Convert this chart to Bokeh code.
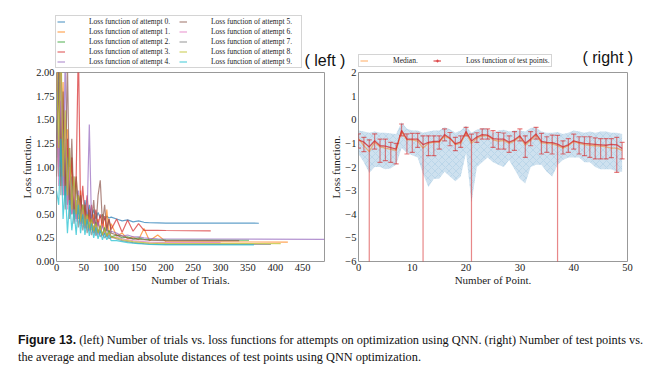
from bokeh.plotting import figure
from bokeh.layouts import row, column
from bokeh.models import (Legend, LegendItem, Label, Div, FixedTicker, Range1d,
                          CustomJSTickFormatter, NumeralTickFormatter)
from bokeh.embed import file_html
from bokeh.resources import INLINE

SERIF = "Liberation Serif"
SANS = "Liberation Sans"

# ---------------- left panel data ----------------
trial_grid = [0, 4, 8, 12, 16, 20, 24, 28, 32, 36, 40, 44, 48, 52, 56, 60, 64, 68, 72, 76,
              80, 84, 88, 92, 96, 100, 110, 120, 130, 140, 150, 160, 170, 185, 200]
attempt_end = [370, 423, 352, 282, 490, 334, 300, 392, 410, 361]
attempt_final = [0.405, 0.205, 0.225, 0.325, 0.235, 0.22, 0.2, 0.18, 0.19, 0.175]

loss_0 = [1.3, 2.1, 0.9, 1.6, 0.7, 1.2, 0.6, 0.9, 0.55, 0.8, 0.5, 0.7, 0.48, 0.65, 0.47, 0.6, 0.46, 0.55, 0.45, 0.52,
          0.46, 0.5, 0.44, 0.48, 0.46, 0.47, 0.45, 0.43, 0.44, 0.42, 0.43, 0.415, 0.41, 0.408, 0.406]
loss_1 = [1.8, 2.3, 1.1, 1.9, 0.8, 1.4, 0.6, 1.1, 0.5, 0.9, 0.45, 0.75, 0.4, 0.6, 0.35, 0.55, 0.33, 0.5, 0.3, 0.45,
          0.3, 0.5, 0.28, 0.55, 0.27, 0.4, 0.27, 0.3, 0.24, 0.26, 0.23, 0.35, 0.22, 0.28, 0.21]
loss_2 = [1.5, 0.9, 2.2, 0.8, 1.3, 0.6, 1.0, 0.5, 0.8, 0.45, 0.7, 0.4, 0.6, 0.35, 0.5, 0.33, 0.45, 0.3, 0.42, 0.3,
          0.38, 0.28, 0.36, 0.27, 0.33, 0.26, 0.28, 0.25, 0.26, 0.24, 0.25, 0.235, 0.232, 0.23, 0.228]
loss_3 = [1.2, 1.9, 0.8, 1.5, 0.7, 1.3, 0.6, 1.1, 0.55, 0.9, 2.3, 0.5, 0.8, 0.45, 0.7, 0.42, 0.6, 0.4, 0.55, 0.38,
          0.5, 0.36, 0.48, 0.35, 0.45, 0.34, 0.45, 0.31, 0.44, 0.32, 0.4, 0.33, 0.33, 0.33, 0.328]
loss_4 = [2.0, 1.0, 1.7, 0.7, 2.2, 0.6, 1.2, 0.5, 0.9, 0.45, 0.75, 0.4, 0.6, 0.38, 0.5, 1.45, 0.4, 0.45, 0.33, 0.42,
          0.3, 0.38, 0.29, 0.35, 0.28, 0.32, 0.3, 0.27, 0.28, 0.26, 0.26, 0.25, 0.245, 0.24, 0.238]
loss_5 = [0.9, 2.2, 1.0, 1.8, 0.7, 2.1, 0.6, 1.3, 0.5, 0.9, 0.6, 0.7, 0.45, 0.6, 0.4, 0.55, 0.38, 0.65, 0.35, 0.7,
          0.86, 0.4, 0.6, 0.32, 0.45, 0.3, 0.28, 0.27, 0.25, 0.24, 0.235, 0.23, 0.225, 0.222, 0.221]
loss_6 = [1.6, 0.8, 2.3, 0.7, 1.5, 0.55, 1.0, 0.5, 0.8, 0.42, 0.65, 0.38, 0.55, 0.35, 0.48, 0.32, 0.42, 0.3, 0.38, 0.28,
          0.35, 0.27, 0.32, 0.26, 0.3, 0.25, 0.26, 0.24, 0.23, 0.22, 0.215, 0.21, 0.205, 0.203, 0.201]
loss_7 = [1.1, 2.0, 0.7, 1.4, 0.55, 1.1, 0.45, 0.8, 0.4, 0.65, 0.36, 0.55, 0.33, 0.48, 0.3, 0.42, 0.28, 0.38, 0.27, 0.34,
          0.26, 0.3, 0.25, 0.28, 0.24, 0.26, 0.24, 0.22, 0.21, 0.2, 0.195, 0.19, 0.186, 0.183, 0.182]
loss_8 = [2.1, 1.2, 2.4, 0.9, 1.6, 0.7, 1.2, 0.55, 0.9, 0.5, 0.7, 0.42, 0.6, 0.38, 0.5, 0.35, 0.45, 0.32, 0.4, 0.3,
          0.37, 0.28, 0.34, 0.27, 0.31, 0.26, 0.25, 0.23, 0.22, 0.21, 0.205, 0.2, 0.195, 0.192, 0.191]
loss_9 = [0.75, 0.6, 1.3, 0.45, 0.8, 0.3, 0.65, 0.33, 0.55, 0.28, 0.6, 0.3, 0.5, 0.28, 0.45, 0.27, 0.4, 0.25, 0.36, 0.24,
          0.33, 0.23, 0.3, 0.23, 0.28, 0.22, 0.22, 0.21, 0.2, 0.195, 0.19, 0.185, 0.18, 0.178, 0.176]
losses = [loss_0, loss_1, loss_2, loss_3, loss_4, loss_5, loss_6, loss_7, loss_8, loss_9]
attempt_colors = ["#1f77b4", "#ff7f0e", "#2ca02c", "#d62728", "#9467bd",
                  "#8c564b", "#e377c2", "#7f7f7f", "#bcbd22", "#17becf"]
left_xticks = [0, 50, 100, 150, 200, 250, 300, 350, 400, 450]
left_yticks = [0, 0.25, 0.5, 0.75, 1.0, 1.25, 1.5, 1.75, 2.0]

# ---------------- right panel data ----------------
points = list(range(50))
mean_loss = [-0.85, -0.95, -1.15, -0.89, -1.1, -1.12, -1.18, -1.24, -0.45, -0.82,
             -0.82, -0.82, -1.05, -0.96, -0.92, -0.92, -0.63, -0.78, -1.02, -0.94,
             -0.5, -0.9, -0.73, -0.63, -0.65, -0.8, -0.82, -0.82, -0.95, -0.85,
             -0.68, -1.0, -0.82, -0.6, -0.92, -0.96, -0.97, -1.03, -1.15, -1.06,
             -0.89, -0.96, -1.0, -1.02, -1.04, -1.06, -1.08, -1.04, -1.06, -1.22]
err_high = [-0.6, -0.75, -0.85, -0.6, -0.82, -0.82, -0.96, -1.0, -0.18, -0.6,
            -0.58, -0.58, -0.68, -0.68, -0.68, -0.68, -0.39, -0.54, -0.75, -0.68,
            -0.32, -0.61, -0.55, -0.39, -0.39, -0.46, -0.54, -0.56, -0.68, -0.5,
            -0.39, -0.68, -0.5, -0.32, -0.58, -0.72, -0.65, -0.66, -0.89, -0.8,
            -0.61, -0.72, -0.72, -0.72, -0.77, -0.8, -0.8, -0.8, -0.75, -0.96]
err_low = [-1.2, -1.35, -7.5, -1.24, -1.8, -1.73, -1.8, -1.87, -0.68, -1.45,
           -1.38, -1.17, -7.5, -1.52, -1.52, -1.24, -0.89, -1.1, -1.31, -1.17,
           -0.68, -7.5, -0.96, -0.82, -0.82, -1.17, -1.24, -1.24, -1.38, -1.3,
           -0.89, -1.59, -1.1, -0.82, -1.45, -1.38, -1.45, -7.5, -1.45, -1.38,
           -1.24, -1.45, -1.52, -1.59, -1.66, -1.66, -1.66, -1.6, -2.23, -1.66]
median_loss = [-0.8, -1.1, -1.35, -0.95, -1.15, -1.2, -1.25, -1.3, -0.5, -0.85,
               -0.85, -0.9, -1.2, -1.0, -0.95, -0.95, -0.7, -0.8, -1.05, -1.0,
               -0.55, -1.0, -0.78, -0.68, -0.68, -0.85, -0.9, -0.88, -1.0, -0.9,
               -0.72, -1.08, -0.88, -0.65, -0.98, -1.0, -1.02, -1.1, -1.2, -1.1,
               -0.92, -1.0, -1.05, -1.08, -1.1, -1.12, -1.15, -1.2, -1.2, -1.3]
band_upper = [-0.46, -0.5, -0.55, -0.5, -0.55, -0.55, -0.58, -0.6, -0.11, -0.38,
              -0.45, -0.45, -0.55, -0.5, -0.45, -0.45, -0.32, -0.4, -0.55, -0.45,
              -0.25, -0.55, -0.42, -0.35, -0.38, -0.55, -0.45, -0.42, -0.5, -0.45,
              -0.45, -0.5, -0.35, -0.32, -0.5, -0.55, -0.55, -0.52, -0.6, -0.55,
              -0.45, -0.5, -0.55, -0.5, -0.55, -0.5, -0.5, -0.55, -0.55, -0.6]
band_lower = [-1.45, -1.8, -2.25, -2.0, -2.0, -2.1, -2.05, -1.9, -1.2, -1.4,
              -1.5, -1.6, -2.3, -2.85, -2.5, -2.5, -2.2, -2.4, -2.6, -2.4,
              -1.4, -3.5, -2.0, -1.8, -1.6, -1.8, -1.9, -2.0, -1.7, -2.1,
              -2.5, -2.7, -2.0, -1.9, -1.9, -2.2, -2.4, -1.9, -1.7, -1.6,
              -1.6, -1.6, -1.8, -1.8, -2.0, -2.1, -2.1, -2.1, -2.2, -2.2]
right_xticks = [0, 10, 20, 30, 40, 50]
right_yticks = [-6, -5, -4, -3, -2, -1, 0, 1, 2]

ERR_COLOR = "#d62728"


def style_axes(p):
    for ax in (p.xaxis[0], p.yaxis[0]):
        ax.axis_line_color = None
        ax.major_tick_line_color = None
        ax.minor_tick_line_color = None
        ax.major_tick_out = 0
        ax.major_tick_in = 0
        ax.minor_tick_out = 0
        ax.minor_tick_in = 0
        ax.major_label_text_font = SERIF
        ax.major_label_text_font_size = "10.5px"
        ax.major_label_text_color = "#222222"
        ax.axis_label_text_font = SERIF
        ax.axis_label_text_font_size = "11px"
        ax.axis_label_text_font_style = "normal"
        ax.axis_label_text_color = "#222222"
        ax.major_label_standoff = 2
        ax.axis_label_standoff = 0
    p.grid.visible = False
    p.outline_line_color = "#999999"
    p.outline_line_width = 1


# ---------------- header strip (legends and panel tags) ----------------
header = figure(width=644, height=64, x_range=Range1d(0, 644), y_range=Range1d(0, 64),
                x_axis_type=None, y_axis_type=None, output_backend="svg", toolbar_location=None,
                min_border=0, min_border_left=0, min_border_right=0, min_border_top=0,
                min_border_bottom=0)
header.outline_line_color = None
header.background_fill_color = None
header.border_fill_color = None
header.grid.visible = False

# legend-only proxy glyphs (one point each, placed outside the visible strip)
proxy_x = [-100]
proxy_y = [-100]

items = []
for i in range(10):
    proxy = header.line(x=proxy_x, y=proxy_y, line_color=attempt_colors[i], line_alpha=0.7,
                        line_width=1.2)
    items.append(LegendItem(label=f"Loss function of attempt {i}.", renderers=[proxy]))
leg = Legend(items=items, location=(47, 4), ncols=2, orientation="vertical",
             label_text_font=SERIF, label_text_font_size="7.5px", label_text_color="#222222",
             glyph_width=8, glyph_height=9, label_height=9, label_width=89,
             label_standoff=24, spacing=1, padding=1, margin=0,
             border_line_color="#aaaaaa", border_line_width=1,
             background_fill_color="white", background_fill_alpha=1)
header.add_layout(leg)

med_proxy = header.line(x=proxy_x, y=proxy_y, line_color="#ff7f0e", line_alpha=0.5, line_width=1.3)
err_proxy_line = header.line(x=proxy_x, y=proxy_y, line_color=ERR_COLOR, line_alpha=0.75,
                             line_width=1.3)
err_proxy_cross = header.scatter(x=proxy_x, y=proxy_y, marker="cross", size=8,
                                 line_color=ERR_COLOR, line_alpha=0.7, line_width=1.2)
leg2 = Legend(items=[LegendItem(label="Median.", renderers=[med_proxy]),
                     LegendItem(label="Loss function of test points.",
                                renderers=[err_proxy_line, err_proxy_cross])],
              location=(350, 5), orientation="horizontal",
              label_text_font=SERIF, label_text_font_size="7.5px", label_text_color="#222222",
              glyph_width=8, glyph_height=9, label_height=9, label_width=35,
              label_standoff=25, spacing=5, padding=1, margin=0,
              border_line_color="#aaaaaa", border_line_width=1,
              background_fill_color="white", background_fill_alpha=1)
header.add_layout(leg2)
header.add_layout(Label(x=296, y=12, text="( left )", text_font=SANS, text_font_size="16px",
                        text_baseline="middle", text_align="left", text_color="#111111"))
header.add_layout(Label(x=574, y=15, text="( right )", text_font=SANS, text_font_size="16px",
                        text_baseline="middle", text_align="left", text_color="#111111"))

# ---------------- left figure ----------------
left = figure(width=338, height=230, x_range=Range1d(0, 490), y_range=Range1d(0, 2),
              output_backend="svg", toolbar_location=None,
              min_border_left=48, min_border_right=22, min_border_top=10, min_border_bottom=30)
left.border_fill_color = None
style_axes(left)
left.xaxis.axis_label = "Number of Trials."
left.yaxis.axis_label = "Loss function."
left.xaxis.ticker = FixedTicker(ticks=left_xticks)
left.yaxis.ticker = FixedTicker(ticks=left_yticks)
left.yaxis.formatter = NumeralTickFormatter(format="0.00")

for i in range(10):
    left.line(trial_grid + [attempt_end[i]], losses[i] + [attempt_final[i]],
              line_color=attempt_colors[i], line_alpha=0.7, line_width=1.2)

# ---------------- right figure ----------------
right = figure(width=326, height=230, x_range=Range1d(0, 50), y_range=Range1d(-6, 2),
               output_backend="svg", toolbar_location=None, margin=(0, 0, 0, -20),
               min_border_left=32, min_border_right=25, min_border_top=10, min_border_bottom=31)
right.border_fill_color = None
right.background_fill_color = "white"
style_axes(right)
right.xaxis.axis_label = "Number of Point."
right.yaxis.axis_label = "Loss function."
right.xaxis.ticker = FixedTicker(ticks=right_xticks)
right.yaxis.ticker = FixedTicker(ticks=right_yticks)
right.yaxis.formatter = CustomJSTickFormatter(
    code="return tick < 0 ? '\u2212' + Math.abs(tick) : String(tick);")

right.varea(x=points, y1=band_lower, y2=band_upper, fill_color="#1f77b4", fill_alpha=0.22,
            hatch_pattern="x", hatch_color="#1f77b4", hatch_alpha=0.18, hatch_scale=7,
            hatch_weight=0.6)
right.line(points, median_loss, line_color="#ff7f0e", line_alpha=0.5, line_width=1.3)
right.segment(x0=points, y0=err_low, x1=points, y1=err_high,
              line_color=ERR_COLOR, line_alpha=0.55, line_width=1.2)
right.scatter(x=points + points, y=err_low + err_high, marker="dash", size=5,
              line_color=ERR_COLOR, line_alpha=0.6, line_width=1.2)
right.line(points, mean_loss, line_color=ERR_COLOR, line_alpha=0.75, line_width=1.3)

caption = Div(
    text=('<div style="padding:35px 0 0 5px; font-family:\'Liberation Serif\'; font-size:12.3px; '
          'line-height:17px; color:#111; white-space:nowrap;">'
          '<span style="font-family:\'Liberation Sans\'; font-weight:bold;">Figure 13.</span> '
          '(left) Number of trials vs. loss functions for attempts on optimization using QNN. '
          '(right) Number of test points vs.<br>'
          'the average and median absolute distances of test points using QNN optimization.</div>'),
    width=644, height=72)

plots = row(left, right, margin=(-10, 0, 0, 0))
layout = column(header, plots, caption, margin=(8, 0, 0, 8))
open("out.html", "w").write(file_html(layout, INLINE))
